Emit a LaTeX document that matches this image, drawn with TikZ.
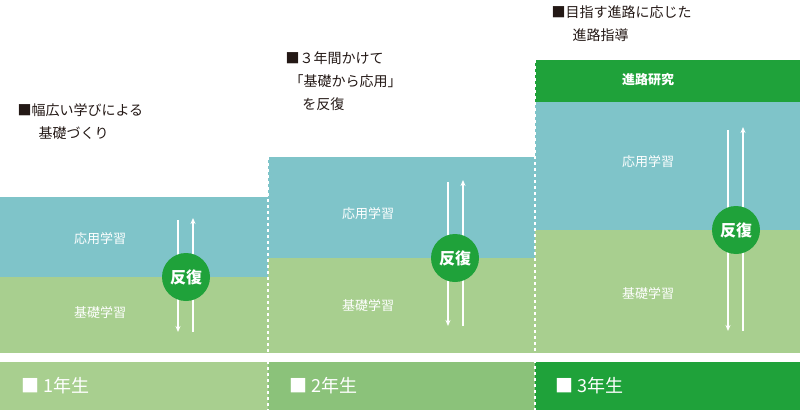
\documentclass[tikz,border=0pt]{standalone}
\usepackage{fontspec}
\newfontfamily\cjk{Noto Sans CJK JP}
\usetikzlibrary{arrows.meta}
\definecolor{teal1}{HTML}{7FC4C9}
\definecolor{lg}{HTML}{A8CF8F}
\definecolor{mg}{HTML}{8BC27A}
\definecolor{dg}{HTML}{1FA23A}
\definecolor{txt}{HTML}{231815}
\begin{document}
\begin{tikzpicture}[x=1pt,y=-1pt,font=\cjk,
  lbl/.style={text=white,font=\cjk\fontsize{13}{15}\selectfont},
  captxt/.style={text=txt,anchor=west,align=left,font=\cjk\fontsize{14}{23}\selectfont},
  circ/.style={circle,fill=dg,minimum size=48pt,inner sep=0,text=white,font=\cjk\bfseries\fontsize{16}{18}\selectfont},
  arr/.style={white,line width=1.3pt,-{Stealth[length=6pt,width=5pt]}},
  bar/.style={text=white,anchor=west,font=\cjk\fontsize{18}{20}\selectfont},
  sep/.style={white,line width=1.5pt,dash pattern=on 3pt off 3pt}]
\useasboundingbox (0,0) rectangle (800,412);
% columns
\fill[teal1] (0,197) rectangle (268,277);
\fill[lg] (0,277) rectangle (268,353);
\fill[teal1] (268,157) rectangle (535,258);
\fill[lg] (268,258) rectangle (535,353);
\fill[dg] (535,60) rectangle (800,102);
\fill[teal1] (535,102) rectangle (800,230);
\fill[lg] (535,230) rectangle (800,353);
% bottom bars
\fill[lg] (0,362) rectangle (268,410);
\fill[mg] (268,362) rectangle (535,410);
\fill[dg] (535,362) rectangle (800,410);
\draw[sep] (268,157) -- (268,410);
\draw[sep] (535,60) -- (535,410);
% labels
\node[lbl] (a1) at (100,239) {応用学習};
\node[lbl] (b1) at (100,313) {基礎学習};
\node[lbl] (a2) at (368,214) {応用学習};
\node[lbl] (b2) at (368,306) {基礎学習};
\node[text=white,font=\cjk\bfseries\fontsize{13}{15}\selectfont] (h3) at (648,80) {進路研究};
\node[lbl] (a3) at (648,162) {応用学習};
\node[lbl] (b3) at (648,294) {基礎学習};
% circles and arrows
\coordinate (d1s) at (178,220); \coordinate (d1e) at (178,332);
\coordinate (u1s) at (193,332); \coordinate (u1e) at (193,218);
\draw[arr] (d1s) -- (d1e); \draw[arr] (u1s) -- (u1e);
\node[circ] (c1) at (186,277) {反復};
\coordinate (d2s) at (448,182); \coordinate (d2e) at (448,326);
\coordinate (u2s) at (463,326); \coordinate (u2e) at (463,180);
\draw[arr] (d2s) -- (d2e); \draw[arr] (u2s) -- (u2e);
\node[circ] (c2) at (455,258) {反復};
\coordinate (d3s) at (728,130); \coordinate (d3e) at (728,331);
\coordinate (u3s) at (743,331); \coordinate (u3e) at (743,127);
\draw[arr] (d3s) -- (d3e); \draw[arr] (u3s) -- (u3e);
\node[circ] (c3) at (736,230) {反復};
% captions
\node[captxt] (t1) at (14,122) {■幅広い学びによる\\\hspace{1.5em}基礎づくり};
\node[captxt] (t2) at (282,81) {■３年間かけて\\\hspace{0.3em}「基礎から応用」\\\hspace{1.2em}を反復};
\node[captxt] (t3) at (548,24) {■目指す進路に応じた\\\hspace{1.5em}進路指導};
% bars
\node[bar] (y1) at (18,386) {■ 1年生};
\node[bar] (y2) at (286,386) {■ 2年生};
\node[bar] (y3) at (552,386) {■ 3年生};
\end{tikzpicture}
\end{document}
